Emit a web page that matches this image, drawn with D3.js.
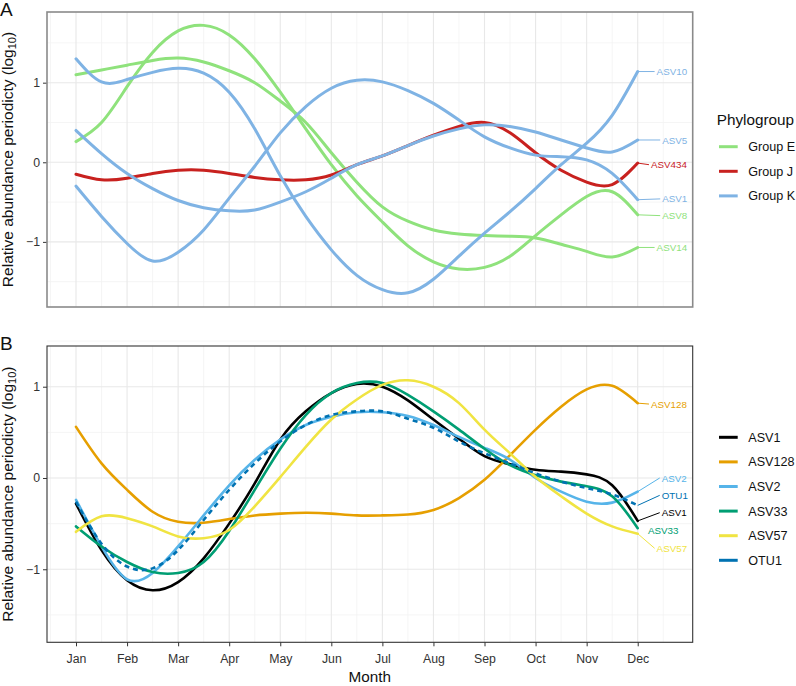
<!DOCTYPE html>
<html>
<head>
<meta charset="utf-8">
<script src="https://cdnjs.cloudflare.com/ajax/libs/d3/7.8.5/d3.min.js"></script>
<style>
  body { margin: 0; background: #fff; }
  text { font-family: "Liberation Sans", Arial, Helvetica, sans-serif; }
</style>
</head>
<body>
<script>
// months and the half-month sampling points the curves are read at
const months = ["Jan", "Feb", "Mar", "Apr", "May", "Jun", "Jul", "Aug", "Sep", "Oct", "Nov", "Dec"];
const samplePos = d3.range(1, 12.01, 0.5);

// panel A: phylogroup periodicity curves
const groupsA = ["Group E", "Group J", "Group K"];
const groupColorsA = ["#8fe27c", "#c8211f", "#7fb3e4"];
const asv8A   = [0.26, 0.50, 0.95, 1.38, 1.65, 1.72, 1.60, 1.30, 0.88, 0.42, -0.03, -0.42, -0.75, -1.05, -1.25, -1.34, -1.32, -1.18, -0.92, -0.66, -0.43, -0.37, -0.66];
const asv14A  = [1.10, 1.16, 1.22, 1.28, 1.31, 1.26, 1.15, 1.00, 0.77, 0.50, 0.12, -0.25, -0.56, -0.74, -0.85, -0.90, -0.92, -0.93, -0.95, -1.03, -1.12, -1.19, -1.07];
const asv434A = [-0.15, -0.22, -0.20, -0.14, -0.10, -0.10, -0.14, -0.19, -0.22, -0.22, -0.16, -0.03, 0.08, 0.21, 0.34, 0.45, 0.50, 0.37, 0.12, -0.10, -0.25, -0.28, -0.01];
const asv10A  = [1.30, 1.01, 1.04, 1.13, 1.18, 1.12, 0.88, 0.42, -0.17, -0.68, -1.10, -1.42, -1.60, -1.64, -1.47, -1.18, -0.89, -0.62, -0.33, -0.03, 0.24, 0.59, 1.14];
const asv5A   = [0.40, 0.11, -0.14, -0.33, -0.48, -0.57, -0.61, -0.60, -0.50, -0.37, -0.20, -0.03, 0.08, 0.21, 0.33, 0.42, 0.47, 0.45, 0.38, 0.28, 0.18, 0.13, 0.28];
const asv1A   = [-0.30, -0.68, -1.02, -1.24, -1.13, -0.85, -0.45, -0.05, 0.37, 0.70, 0.93, 1.03, 1.01, 0.90, 0.74, 0.53, 0.32, 0.18, 0.09, 0.07, 0.03, -0.14, -0.47];
const namesA  = ["ASV8", "ASV14", "ASV434", "ASV10", "ASV5", "ASV1"];
const seriesGroupA = ["Group E", "Group E", "Group J", "Group K", "Group K", "Group K"];
// label positions (month, value) for the end labels
const labelXA = [12.48, 12.37, 12.26, 12.37, 12.48, 12.48];
const labelYA = [-0.67, -1.07, -0.03, 1.14, 0.28, -0.46];

// panel B: individual ASVs
const namesB  = ["ASV1", "ASV128", "ASV2", "ASV33", "ASV57", "OTU1"];
const colorsB = ["#000000", "#e69f00", "#56b4e9", "#009e73", "#f0e442", "#0072b2"];
const asv1B   = [-0.28, -0.79, -1.12, -1.23, -1.14, -0.88, -0.50, -0.06, 0.42, 0.73, 0.93, 1.03, 1.00, 0.85, 0.64, 0.43, 0.24, 0.15, 0.09, 0.07, 0.04, -0.08, -0.47];
const asv128B = [0.56, 0.16, -0.13, -0.37, -0.48, -0.49, -0.45, -0.41, -0.39, -0.38, -0.39, -0.41, -0.41, -0.40, -0.35, -0.22, -0.02, 0.25, 0.53, 0.78, 0.97, 1.01, 0.82];
const asv2B   = [-0.24, -0.75, -1.11, -1.04, -0.75, -0.41, -0.08, 0.20, 0.42, 0.58, 0.67, 0.72, 0.72, 0.68, 0.58, 0.45, 0.33, 0.20, 0.00, -0.15, -0.26, -0.27, -0.15];
const asv33B  = [-0.53, -0.75, -0.92, -1.03, -1.04, -0.92, -0.58, -0.13, 0.32, 0.69, 0.93, 1.04, 1.04, 0.91, 0.73, 0.53, 0.32, 0.14, 0.03, -0.04, -0.09, -0.20, -0.55];
const asv57B  = [-0.59, -0.42, -0.44, -0.53, -0.64, -0.66, -0.57, -0.31, 0.01, 0.34, 0.64, 0.86, 1.02, 1.07, 1.00, 0.82, 0.53, 0.27, 0.01, -0.20, -0.39, -0.53, -0.61];
const otu1B   = [-0.26, -0.72, -0.97, -0.99, -0.79, -0.46, -0.13, 0.16, 0.40, 0.58, 0.69, 0.73, 0.73, 0.65, 0.55, 0.40, 0.27, 0.16, 0.05, -0.04, -0.11, -0.18, -0.30];
const labelXB = [12.47, 12.26, 12.47, 12.20, 12.37, 12.47];
const labelYB = [-0.38, 0.81, 0.00, -0.58, -0.77, -0.19];
const noSegment = ["ASV33"];

const yTicks = [-1, 0, 1];
const yMinor = [-1.5, -0.5, 0.5, 1.5];
const ylabel = "Relative abundance periodicty (log";

const svg = d3.select("body").append("svg")
    .attr("width", 796)
    .attr("height", 686);

const x = d3.scaleLinear().domain([0.432, 13.077]).range([47, 692.7]);
const yA = d3.scaleLinear().domain([-1.818, 1.888]).range([307, 12]);
const yB = d3.scaleLinear().domain([-1.8, 1.446]).range([642.3, 346]);

const minus = d => d < 0 ? "\u2212" + Math.abs(d) : String(d);

function drawPanel(y, series, opts) {
    const g = svg.append("g");
    const [x0, x1] = x.range();
    const [y0, y1] = y.range();

    // grid
    g.selectAll(".vmin").data(d3.range(0.5, 13, 1)).enter().append("line")
        .attr("x1", d => x(d)).attr("x2", d => x(d))
        .attr("y1", y1).attr("y2", y0)
        .attr("stroke", "#f2f2f2").attr("stroke-width", 0.8);
    g.selectAll(".hmin").data(yMinor).enter().append("line")
        .attr("x1", x0).attr("x2", x1)
        .attr("y1", d => y(d)).attr("y2", d => y(d))
        .attr("stroke", "#f2f2f2").attr("stroke-width", 0.8);
    g.selectAll(".vmaj").data(d3.range(1, 13)).enter().append("line")
        .attr("x1", d => x(d)).attr("x2", d => x(d))
        .attr("y1", y1).attr("y2", y0)
        .attr("stroke", "#e8e8e8").attr("stroke-width", 1.1);
    g.selectAll(".hmaj").data(yTicks).enter().append("line")
        .attr("x1", x0).attr("x2", x1)
        .attr("y1", d => y(d)).attr("y2", d => y(d))
        .attr("stroke", "#e8e8e8").attr("stroke-width", 1.1);

    const line = d3.line()
        .x((d, i) => x(samplePos[i]))
        .y(d => y(d))
        .curve(d3.curveNatural);

    // label segments
    series.forEach(s => {
        if (noSegment.includes(s.name) && opts.panel === "B") return;
        g.append("line")
            .attr("x1", x(12)).attr("y1", y(s.values[s.values.length - 1]))
            .attr("x2", x(s.lx) - 2).attr("y2", y(s.ly))
            .attr("stroke", s.color).attr("stroke-width", 1);
    });

    series.forEach(s => {
        g.append("path")
            .attr("d", line(s.values))
            .attr("fill", "none")
            .attr("stroke", s.color)
            .attr("stroke-width", opts.lw)
            .attr("stroke-dasharray", s.dash || null)
            .attr("stroke-linecap", s.dash ? "butt" : "round");
    });

    series.forEach(s => {
        g.append("text")
            .attr("x", x(s.lx)).attr("y", y(s.ly))
            .attr("dy", "0.36em")
            .attr("font-size", "9.8px")
            .attr("fill", s.color)
            .text(s.name);
    });

    // axes
    const ax = g.append("g").attr("transform", "translate(" + x0 + ",0)")
        .call(d3.axisLeft(y).tickValues(yTicks).tickSize(4).tickPadding(3).tickFormat(minus));
    ax.select(".domain").remove();
    ax.selectAll("line").attr("stroke", "#333");
    ax.selectAll("text").attr("font-size", "12.3px").attr("fill", "#333")
        .style("font-family", "'Liberation Sans', Arial, sans-serif");

    if (opts.xaxis) {
        const bx = g.append("g").attr("transform", "translate(0," + y0 + ")")
            .call(d3.axisBottom(x).tickValues(d3.range(1, 13)).tickSize(4).tickPadding(8)
                .tickFormat(d => months[d - 1]));
        bx.select(".domain").remove();
        bx.selectAll("line").attr("stroke", "#333");
        bx.selectAll("text").attr("font-size", "12.3px").attr("fill", "#333")
            .style("font-family", "'Liberation Sans', Arial, sans-serif");
    }

    g.append("rect")
        .attr("x", x0).attr("y", y1)
        .attr("width", x1 - x0).attr("height", y0 - y1)
        .attr("fill", "none")
        .attr("stroke", opts.border).attr("stroke-width", opts.borderW);

    // y title
    const yt = g.append("text")
        .attr("transform", "translate(13," + ((y0 + y1) / 2) + ") rotate(-90)")
        .attr("text-anchor", "middle")
        .attr("font-size", "15.5px")
        .attr("fill", "#111");
    yt.append("tspan").text(ylabel);
    yt.append("tspan").attr("font-size", "11px").attr("dy", "3").text("10");
    yt.append("tspan").attr("dy", "-3").text(")");

    g.append("text")
        .attr("x", 0).attr("y", opts.tagY)
        .attr("font-size", "19px").attr("fill", "#111")
        .text(opts.tag);
}

// panel A
const colorOfGroup = d3.scaleOrdinal().domain(groupsA).range(groupColorsA);
const valuesA = [asv8A, asv14A, asv434A, asv10A, asv5A, asv1A];
const seriesA = namesA.map((n, i) => ({
    name: n, values: valuesA[i], color: colorOfGroup(seriesGroupA[i]),
    lx: labelXA[i], ly: labelYA[i]
}));
drawPanel(yA, seriesA, { panel: "A", lw: 3, xaxis: false, border: "#8a8a8a", borderW: 1.6, tag: "A", tagY: 16 });

// panel B
const valuesB = [asv1B, asv128B, asv2B, asv33B, asv57B, otu1B];
const seriesB = namesB.map((n, i) => ({
    name: n, values: valuesB[i], color: colorsB[i],
    lx: labelXB[i], ly: labelYB[i], dash: n === "OTU1" ? "5,4" : null
}));
drawPanel(yB, seriesB, { panel: "B", lw: 2.6, xaxis: true, border: "#333", borderW: 1.1, tag: "B", tagY: 350 });

svg.append("text")
    .attr("x", (x.range()[0] + x.range()[1]) / 2).attr("y", 682)
    .attr("text-anchor", "middle")
    .attr("font-size", "15.3px").attr("fill", "#111")
    .text("Month");

// legend A
const legA = svg.append("g");
legA.append("text").attr("x", 716.7).attr("y", 124.5)
    .attr("font-size", "15.3px").attr("fill", "#111").text("Phylogroup");
groupsA.forEach((gname, i) => {
    const yy = 146.7 + i * 24.6;
    legA.append("line").attr("x1", 719).attr("x2", 737.7).attr("y1", yy).attr("y2", yy)
        .attr("stroke", groupColorsA[i]).attr("stroke-width", 3);
    legA.append("text").attr("x", 748.3).attr("y", yy).attr("dy", "0.36em")
        .attr("font-size", "12.6px").attr("fill", "#111").text(gname);
});

// legend B
const legB = svg.append("g");
namesB.forEach((n, i) => {
    const yy = 437.3 + i * 24.6;
    legB.append("line").attr("x1", 719).attr("x2", 737.7).attr("y1", yy).attr("y2", yy)
        .attr("stroke", colorsB[i]).attr("stroke-width", 3);
    legB.append("text").attr("x", 748.3).attr("y", yy).attr("dy", "0.36em")
        .attr("font-size", "12.6px").attr("fill", "#111").text(n);
});
</script>
</body>
</html>
